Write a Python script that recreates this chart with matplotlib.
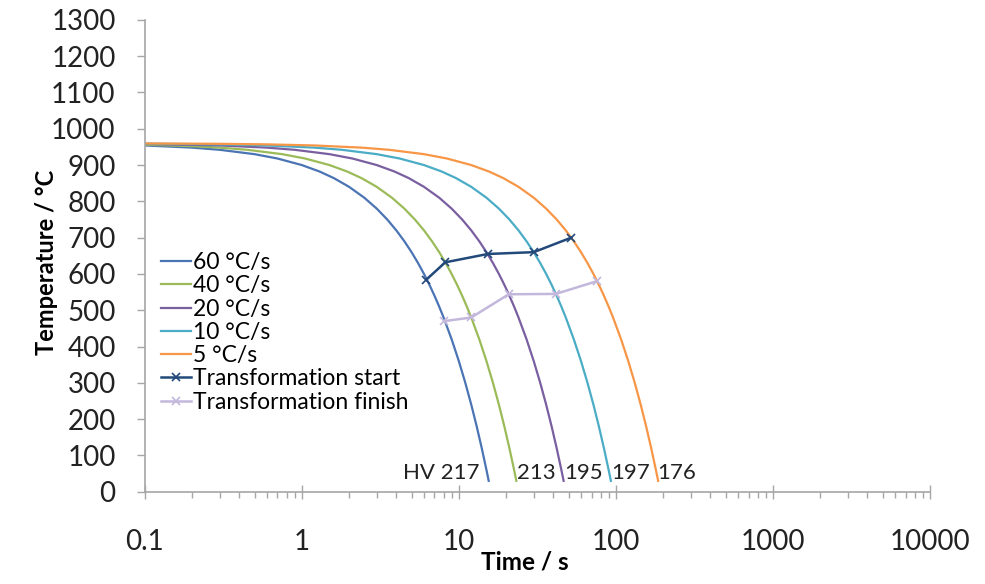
import matplotlib
matplotlib.use("Agg")
import matplotlib.pyplot as plt

plt.rcParams.update({
    "font.family": ["Lato", "DejaVu Sans"],
    "figure.facecolor": "white",
    "axes.facecolor": "white",
})

# ---------------------------------------------------------------------------
# Cooling curves (time in s, temperature in degC)
# ---------------------------------------------------------------------------
t_60 = [0.1, 0.2, 0.3, 0.5, 0.7, 1, 1.3, 1.6, 2, 2.5, 3, 3.5, 4, 4.5, 5, 5.5,
        6, 6.5, 7, 7.5, 8, 9, 10, 11, 12, 13, 14, 15, 15.5]
T_60 = [954, 948, 942, 930, 918, 900, 882, 864, 840, 810, 780, 750, 720, 690, 660, 630,
        600, 570, 540, 510, 480, 420, 360, 300, 240, 180, 120, 60, 30]

t_40 = [0.1, 0.2, 0.3, 0.45, 0.75, 1.05, 1.5, 1.95, 2.4, 3, 3.75, 4.5, 5.25, 6, 6.75,
        7.5, 8.25, 9, 9.75, 10.5, 11.25, 12, 13.5, 15, 16.5, 18, 19.5, 21, 22.5, 23.25]
T_40 = [956, 952, 948, 942, 930, 918, 900, 882, 864, 840, 810, 780, 750, 720, 690,
        660, 630, 600, 570, 540, 510, 480, 420, 360, 300, 240, 180, 120, 60, 30]

t_20 = [0.1, 0.3, 0.6, 0.9, 1.5, 2.1, 3, 3.9, 4.8, 6, 7.5, 9, 10.5, 12, 13.5, 15,
        16.5, 18, 19.5, 21, 22.5, 24, 27, 30, 33, 36, 39, 42, 45, 46.5]
T_20 = [958, 954, 948, 942, 930, 918, 900, 882, 864, 840, 810, 780, 750, 720, 690, 660,
        630, 600, 570, 540, 510, 480, 420, 360, 300, 240, 180, 120, 60, 30]

t_10 = [0.1, 0.3, 0.6, 1.2, 1.8, 3, 4.2, 6, 7.8, 9.6, 12, 15, 18, 21, 24, 27, 30,
        33, 36, 39, 42, 45, 48, 54, 60, 66, 72, 78, 84, 90, 93]
T_10 = [959, 957, 954, 948, 942, 930, 918, 900, 882, 864, 840, 810, 780, 750, 720, 690, 660,
        630, 600, 570, 540, 510, 480, 420, 360, 300, 240, 180, 120, 60, 30]

t_5 = [0.1, 0.3, 0.6, 1.2, 2.4, 3.6, 6, 8.4, 12, 15.6, 19.2, 24, 30, 36, 42, 48, 54,
       60, 66, 72, 78, 84, 90, 96, 108, 120, 132, 144, 156, 168, 180, 186]
T_5 = [959.5, 958.5, 957, 954, 948, 942, 930, 918, 900, 882, 864, 840, 810, 780, 750, 720, 690,
       660, 630, 600, 570, 540, 510, 480, 420, 360, 300, 240, 180, 120, 60, 30]

# transformation start / finish points
t_start = [6.2, 8.2, 15.3, 30, 52]
T_start = [584, 632, 655, 660, 700]
t_finish = [8.1, 12, 20.8, 41.5, 75.7]
T_finish = [470, 480, 544, 545, 580]

# hardness labels: text, time of left edge, temperature
hv_text = ["HV 217", "213", "195", "197", "176"]
hv_t = [4.4, 23.5, 46.8, 94, 183]
hv_T = [52, 52, 52, 52, 52]

curves = [
    ("60 °C/s", t_60, T_60, "#4a74b4"),
    ("40 °C/s", t_40, T_40, "#9bbb59"),
    ("20 °C/s", t_20, T_20, "#7a5fa0"),
    ("10 °C/s", t_10, T_10, "#4bacc6"),
    ("5 °C/s", t_5, T_5, "#f79646"),
]

fig = plt.figure(figsize=(9.85, 5.84), dpi=100)
ax = fig.add_axes([0.147, 0.158, 0.797, 0.808])

for label, t, T, c in curves:
    ax.plot(t, T, color=c, linewidth=1.6, label=label)

ax.plot(t_start, T_start, color="#23497a", linewidth=1.8, marker="x",
        markersize=6, markeredgewidth=1.2, label="Transformation start")
ax.plot(t_finish, T_finish, color="#c3b8dc", linewidth=1.8, marker="x",
        markersize=6, markeredgewidth=1.2, label="Transformation finish")

for txt, t, T in zip(hv_text, hv_t, hv_T):
    ax.text(t, T, txt, fontsize=16, color="#222222", ha="left", va="center")

ax.set_xscale("log")
ax.set_xlim(0.1, 10000)
ax.set_ylim(0, 1300)
ax.set_yticks(range(0, 1301, 100))
ax.set_xticks([0.1, 1, 10, 100, 1000, 10000])
ax.set_xticklabels(["0.1", "1", "10", "100", "1000", "10000"])

for side in ["top", "right"]:
    ax.spines[side].set_visible(False)
for side in ["left", "bottom"]:
    ax.spines[side].set_color("#a6a6a6")
    ax.spines[side].set_linewidth(1.2)

ax.tick_params(axis="y", which="major", direction="out", length=6, width=1,
               color="#a6a6a6", labelsize=20, pad=15, labelcolor="#222222")
ax.tick_params(axis="x", which="major", direction="inout", length=10, width=1,
               color="#a6a6a6", labelsize=20, pad=22, labelcolor="#222222")
ax.tick_params(axis="x", which="minor", direction="out", length=4, width=1,
               color="#a6a6a6")

ax.set_ylabel("Temperature / °C", fontsize=17, fontweight="bold")
ax.yaxis.set_label_coords(-0.111, 0.487)
ax.set_xlabel("Time / s", fontsize=17.5, fontweight="bold")
ax.xaxis.set_label_coords(0.484, -0.124)

ax.legend(loc="upper left", bbox_to_anchor=(0.0, 0.542), frameon=False,
          fontsize=16.5, labelspacing=0.1, handlelength=1.3, handletextpad=0.1,
          borderaxespad=0.3)

fig.savefig("out.png", dpi=100)
